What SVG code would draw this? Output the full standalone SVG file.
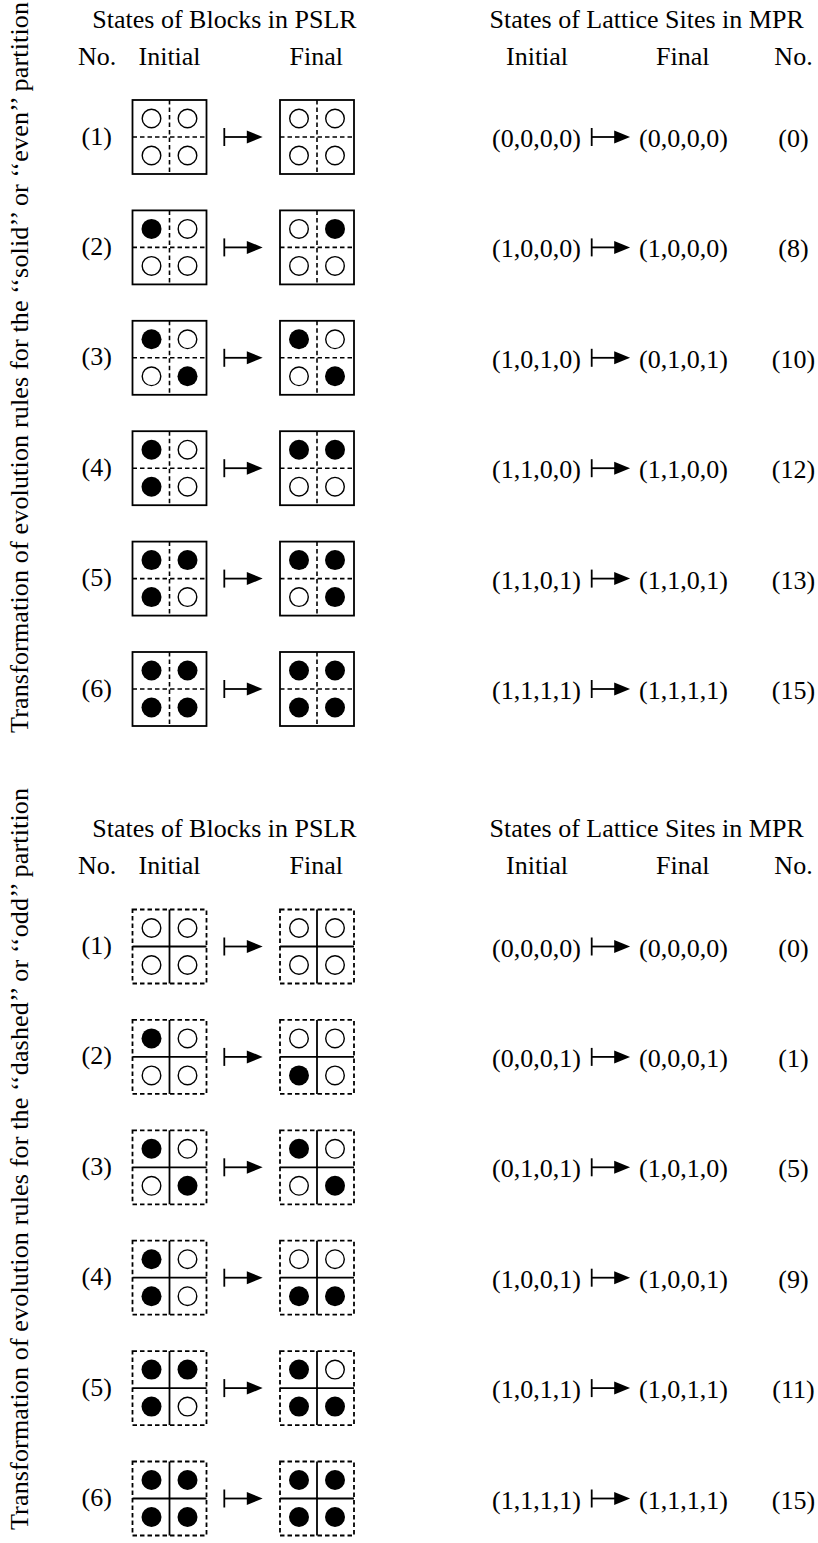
<svg xmlns="http://www.w3.org/2000/svg" width="818" height="1543" viewBox="0 0 818 1543">
<style>
text{font-family:"Liberation Serif","Times New Roman",serif;font-size:26px;fill:#000}
.m{text-anchor:middle}
.e{text-anchor:end}
.sb{fill:none;stroke:#000;stroke-width:1.8}
.db{fill:none;stroke:#000;stroke-width:1.8;stroke-dasharray:4.5 3}
.dl{stroke:#000;stroke-width:1.6;stroke-dasharray:4.5 3}
.sl{stroke:#000;stroke-width:1.8}
.o{fill:#fff;stroke:#000;stroke-width:1.4}
.f{fill:#000}
.arr line{stroke:#000;stroke-width:1.8}
.arr polygon{fill:#000}
</style>
<defs>
<g id="arr" class="arr"><line x1="0" y1="-9" x2="0" y2="9"/><line x1="0" y1="0" x2="24" y2="0"/><polygon points="22.5,-6.5 38.4,0 22.5,6.5"/></g>
<g id="sf"><rect x="-37" y="-37" width="74" height="74" class="sb"/><line x1="0" y1="-37" x2="0" y2="37" class="dl"/><line x1="-37" y1="0" x2="37" y2="0" class="dl"/></g>
<g id="df"><line x1="0" y1="-37" x2="0" y2="37" class="sl"/><line x1="-37" y1="0" x2="37" y2="0" class="sl"/><rect x="-37" y="-37" width="74" height="74" class="db"/></g>
<circle id="o" r="9.3" class="o"/>
<circle id="f" r="10" class="f"/>
</defs>

<g id="side-labels">
<text class="e" transform="translate(27.5,2) rotate(-90)" textLength="731" lengthAdjust="spacing">Transformation of evolution rules for the ‘‘solid’’ or ‘‘even’’ partition</text>
<text class="e" transform="translate(27.5,788) rotate(-90)" textLength="742" lengthAdjust="spacing">Transformation of evolution rules for the ‘‘dashed’’ or ‘‘odd’’ partition</text>
</g>

<g id="header-top">
<text class="m" x="224.5" y="28">States of Blocks in PSLR</text>
<text x="78" y="65">No.</text>
<text x="138.5" y="65">Initial</text>
<text x="289.5" y="65">Final</text>
<text class="m" x="646.7" y="28">States of Lattice Sites in MPR</text>
<text x="506" y="65">Initial</text>
<text x="656" y="65">Final</text>
<text class="m" x="793.5" y="65">No.</text>
</g>

<g id="header-bottom" transform="translate(0,809)">
<text class="m" x="224.5" y="28">States of Blocks in PSLR</text>
<text x="78" y="65">No.</text>
<text x="138.5" y="65">Initial</text>
<text x="289.5" y="65">Final</text>
<text class="m" x="646.7" y="28">States of Lattice Sites in MPR</text>
<text x="506" y="65">Initial</text>
<text x="656" y="65">Final</text>
<text class="m" x="793.5" y="65">No.</text>
</g>

<!-- top half rows -->
<g id="even-1" transform="translate(0,137)">
<text x="81.5" y="7.5">(1)</text>
<g transform="translate(169.5,0)"><use href="#sf"/><use href="#o" x="-18" y="-18.5"/><use href="#o" x="18" y="-18.5"/><use href="#o" x="-18" y="18.5"/><use href="#o" x="18" y="18.5"/></g>
<g transform="translate(317,0)"><use href="#sf"/><use href="#o" x="-18" y="-18.5"/><use href="#o" x="18" y="-18.5"/><use href="#o" x="-18" y="18.5"/><use href="#o" x="18" y="18.5"/></g>
<text x="492" y="10">(0,0,0,0)</text><text x="639" y="10">(0,0,0,0)</text><text class="m" x="793.5" y="10">(0)</text>
</g>
<g id="even-2" transform="translate(0,247.4)">
<text x="81.5" y="7.5">(2)</text>
<g transform="translate(169.5,0)"><use href="#sf"/><use href="#f" x="-18" y="-18.5"/><use href="#o" x="18" y="-18.5"/><use href="#o" x="-18" y="18.5"/><use href="#o" x="18" y="18.5"/></g>
<g transform="translate(317,0)"><use href="#sf"/><use href="#o" x="-18" y="-18.5"/><use href="#f" x="18" y="-18.5"/><use href="#o" x="-18" y="18.5"/><use href="#o" x="18" y="18.5"/></g>
<text x="492" y="10">(1,0,0,0)</text><text x="639" y="10">(1,0,0,0)</text><text class="m" x="793.5" y="10">(8)</text>
</g>
<g id="even-3" transform="translate(0,357.8)">
<text x="81.5" y="7.5">(3)</text>
<g transform="translate(169.5,0)"><use href="#sf"/><use href="#f" x="-18" y="-18.5"/><use href="#o" x="18" y="-18.5"/><use href="#o" x="-18" y="18.5"/><use href="#f" x="18" y="18.5"/></g>
<g transform="translate(317,0)"><use href="#sf"/><use href="#f" x="-18" y="-18.5"/><use href="#o" x="18" y="-18.5"/><use href="#o" x="-18" y="18.5"/><use href="#f" x="18" y="18.5"/></g>
<text x="492" y="10">(1,0,1,0)</text><text x="639" y="10">(0,1,0,1)</text><text class="m" x="793.5" y="10">(10)</text>
</g>
<g id="even-4" transform="translate(0,468.2)">
<text x="81.5" y="7.5">(4)</text>
<g transform="translate(169.5,0)"><use href="#sf"/><use href="#f" x="-18" y="-18.5"/><use href="#o" x="18" y="-18.5"/><use href="#f" x="-18" y="18.5"/><use href="#o" x="18" y="18.5"/></g>
<g transform="translate(317,0)"><use href="#sf"/><use href="#f" x="-18" y="-18.5"/><use href="#f" x="18" y="-18.5"/><use href="#o" x="-18" y="18.5"/><use href="#o" x="18" y="18.5"/></g>
<text x="492" y="10">(1,1,0,0)</text><text x="639" y="10">(1,1,0,0)</text><text class="m" x="793.5" y="10">(12)</text>
</g>
<g id="even-5" transform="translate(0,578.6)">
<text x="81.5" y="7.5">(5)</text>
<g transform="translate(169.5,0)"><use href="#sf"/><use href="#f" x="-18" y="-18.5"/><use href="#f" x="18" y="-18.5"/><use href="#f" x="-18" y="18.5"/><use href="#o" x="18" y="18.5"/></g>
<g transform="translate(317,0)"><use href="#sf"/><use href="#f" x="-18" y="-18.5"/><use href="#f" x="18" y="-18.5"/><use href="#o" x="-18" y="18.5"/><use href="#f" x="18" y="18.5"/></g>
<text x="492" y="10">(1,1,0,1)</text><text x="639" y="10">(1,1,0,1)</text><text class="m" x="793.5" y="10">(13)</text>
</g>
<g id="even-6" transform="translate(0,689)">
<text x="81.5" y="7.5">(6)</text>
<g transform="translate(169.5,0)"><use href="#sf"/><use href="#f" x="-18" y="-18.5"/><use href="#f" x="18" y="-18.5"/><use href="#f" x="-18" y="18.5"/><use href="#f" x="18" y="18.5"/></g>
<g transform="translate(317,0)"><use href="#sf"/><use href="#f" x="-18" y="-18.5"/><use href="#f" x="18" y="-18.5"/><use href="#f" x="-18" y="18.5"/><use href="#f" x="18" y="18.5"/></g>
<text x="492" y="10">(1,1,1,1)</text><text x="639" y="10">(1,1,1,1)</text><text class="m" x="793.5" y="10">(15)</text>
</g>

<!-- bottom half rows -->
<g id="odd-1" transform="translate(0,946.5)">
<text x="81.5" y="7.5">(1)</text>
<g transform="translate(169.5,0)"><use href="#df"/><use href="#o" x="-18" y="-18.5"/><use href="#o" x="18" y="-18.5"/><use href="#o" x="-18" y="18.5"/><use href="#o" x="18" y="18.5"/></g>
<g transform="translate(317,0)"><use href="#df"/><use href="#o" x="-18" y="-18.5"/><use href="#o" x="18" y="-18.5"/><use href="#o" x="-18" y="18.5"/><use href="#o" x="18" y="18.5"/></g>
<text x="492" y="10">(0,0,0,0)</text><text x="639" y="10">(0,0,0,0)</text><text class="m" x="793.5" y="10">(0)</text>
</g>
<g id="odd-2" transform="translate(0,1056.9)">
<text x="81.5" y="7.5">(2)</text>
<g transform="translate(169.5,0)"><use href="#df"/><use href="#f" x="-18" y="-18.5"/><use href="#o" x="18" y="-18.5"/><use href="#o" x="-18" y="18.5"/><use href="#o" x="18" y="18.5"/></g>
<g transform="translate(317,0)"><use href="#df"/><use href="#o" x="-18" y="-18.5"/><use href="#o" x="18" y="-18.5"/><use href="#f" x="-18" y="18.5"/><use href="#o" x="18" y="18.5"/></g>
<text x="492" y="10">(0,0,0,1)</text><text x="639" y="10">(0,0,0,1)</text><text class="m" x="793.5" y="10">(1)</text>
</g>
<g id="odd-3" transform="translate(0,1167.3)">
<text x="81.5" y="7.5">(3)</text>
<g transform="translate(169.5,0)"><use href="#df"/><use href="#f" x="-18" y="-18.5"/><use href="#o" x="18" y="-18.5"/><use href="#o" x="-18" y="18.5"/><use href="#f" x="18" y="18.5"/></g>
<g transform="translate(317,0)"><use href="#df"/><use href="#f" x="-18" y="-18.5"/><use href="#o" x="18" y="-18.5"/><use href="#o" x="-18" y="18.5"/><use href="#f" x="18" y="18.5"/></g>
<text x="492" y="10">(0,1,0,1)</text><text x="639" y="10">(1,0,1,0)</text><text class="m" x="793.5" y="10">(5)</text>
</g>
<g id="odd-4" transform="translate(0,1277.7)">
<text x="81.5" y="7.5">(4)</text>
<g transform="translate(169.5,0)"><use href="#df"/><use href="#f" x="-18" y="-18.5"/><use href="#o" x="18" y="-18.5"/><use href="#f" x="-18" y="18.5"/><use href="#o" x="18" y="18.5"/></g>
<g transform="translate(317,0)"><use href="#df"/><use href="#o" x="-18" y="-18.5"/><use href="#o" x="18" y="-18.5"/><use href="#f" x="-18" y="18.5"/><use href="#f" x="18" y="18.5"/></g>
<text x="492" y="10">(1,0,0,1)</text><text x="639" y="10">(1,0,0,1)</text><text class="m" x="793.5" y="10">(9)</text>
</g>
<g id="odd-5" transform="translate(0,1388.1)">
<text x="81.5" y="7.5">(5)</text>
<g transform="translate(169.5,0)"><use href="#df"/><use href="#f" x="-18" y="-18.5"/><use href="#f" x="18" y="-18.5"/><use href="#f" x="-18" y="18.5"/><use href="#o" x="18" y="18.5"/></g>
<g transform="translate(317,0)"><use href="#df"/><use href="#f" x="-18" y="-18.5"/><use href="#o" x="18" y="-18.5"/><use href="#f" x="-18" y="18.5"/><use href="#f" x="18" y="18.5"/></g>
<text x="492" y="10">(1,0,1,1)</text><text x="639" y="10">(1,0,1,1)</text><text class="m" x="793.5" y="10">(11)</text>
</g>
<g id="odd-6" transform="translate(0,1498.5)">
<text x="81.5" y="7.5">(6)</text>
<g transform="translate(169.5,0)"><use href="#df"/><use href="#f" x="-18" y="-18.5"/><use href="#f" x="18" y="-18.5"/><use href="#f" x="-18" y="18.5"/><use href="#f" x="18" y="18.5"/></g>
<g transform="translate(317,0)"><use href="#df"/><use href="#f" x="-18" y="-18.5"/><use href="#f" x="18" y="-18.5"/><use href="#f" x="-18" y="18.5"/><use href="#f" x="18" y="18.5"/></g>
<text x="492" y="10">(1,1,1,1)</text><text x="639" y="10">(1,1,1,1)</text><text class="m" x="793.5" y="10">(15)</text>
</g>

<g id="connectors">
<use href="#arr" x="224.3" y="137"/><use href="#arr" x="591.7" y="137"/>
<use href="#arr" x="224.3" y="247.4"/><use href="#arr" x="591.7" y="247.4"/>
<use href="#arr" x="224.3" y="357.8"/><use href="#arr" x="591.7" y="357.8"/>
<use href="#arr" x="224.3" y="468.2"/><use href="#arr" x="591.7" y="468.2"/>
<use href="#arr" x="224.3" y="578.6"/><use href="#arr" x="591.7" y="578.6"/>
<use href="#arr" x="224.3" y="689"/><use href="#arr" x="591.7" y="689"/>
<use href="#arr" x="224.3" y="946.5"/><use href="#arr" x="591.7" y="946.5"/>
<use href="#arr" x="224.3" y="1056.9"/><use href="#arr" x="591.7" y="1056.9"/>
<use href="#arr" x="224.3" y="1167.3"/><use href="#arr" x="591.7" y="1167.3"/>
<use href="#arr" x="224.3" y="1277.7"/><use href="#arr" x="591.7" y="1277.7"/>
<use href="#arr" x="224.3" y="1388.1"/><use href="#arr" x="591.7" y="1388.1"/>
<use href="#arr" x="224.3" y="1498.5"/><use href="#arr" x="591.7" y="1498.5"/>
</g>
</svg>
